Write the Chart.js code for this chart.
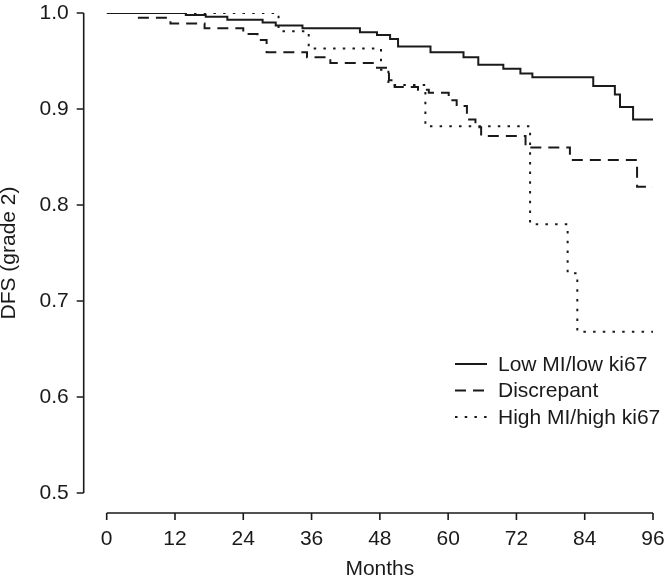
<!DOCTYPE html>
<html>
<head>
<meta charset="utf-8">
<title>DFS grade 2</title>
<script src="https://cdn.jsdelivr.net/npm/chart.js@4/dist/chart.umd.min.js"></script>
<style>
  body { margin: 0; background: #fff; }
  #wrap { width: 670px; height: 585px; }
</style>
</head>
<body>
<div id="wrap"><canvas id="km" width="670" height="585"></canvas></div>
<script>
// Kaplan-Meier steps: month of event, DFS after the event
const lowMonths = [0, 13.9, 17.4, 21.2, 27.4, 29.7, 34.4, 44.5, 47.5, 49.8, 51.2, 56.9, 62.7, 65.3, 69.7, 72.7, 74.8, 85.5, 89.3, 90.2, 92.5, 96]
const lowDfs    = [1.0, 0.998, 0.996, 0.993, 0.990, 0.987, 0.984, 0.980, 0.977, 0.973, 0.965, 0.959, 0.954, 0.946, 0.942, 0.937, 0.933, 0.924, 0.915, 0.902, 0.889, 0.889]

const discMonths = [0, 5.2, 11.2, 17.2, 24.0, 26.5, 28.1, 35.2, 39.3, 47.2, 49.6, 50.6, 54.7, 56.6, 60.1, 61.5, 63.3, 64.8, 65.8, 73.6, 81.4, 93.2, 96]
const discDfs    = [1.0, 0.995, 0.989, 0.984, 0.978, 0.972, 0.959, 0.954, 0.948, 0.943, 0.930, 0.923, 0.920, 0.917, 0.909, 0.903, 0.889, 0.881, 0.872, 0.860, 0.847, 0.819, 0.819]

const highMonths = [0, 30.2, 35.5, 48.2, 49.5, 56.0, 74.4, 81.0, 82.7, 96]
const highDfs    = [1.0, 0.981, 0.963, 0.941, 0.925, 0.882, 0.780, 0.729, 0.668, 0.668]

const seriesLabels = ['Low MI/low ki67', 'Discrepant', 'High MI/high ki67']
const seriesDashes = [[], [11, 7], [2.5, 7.2]]

const monthTicks = [0, 12, 24, 36, 48, 60, 72, 84, 96]
const dfsTicks = [0.5, 0.6, 0.7, 0.8, 0.9, 1.0]

const ink = '#1a1a1a'
const fontFamily = "'Liberation Sans', Arial, Helvetica, sans-serif"
const fontSize = 21

function toPoints(months, vals) {
    return months.map((m, i) => ({x: m, y: vals[i]}))
}

// R style axes: lines detached from the plot region
const rAxes = {
    id: 'rAxes',
    afterDraw(chart) {
        const ctx = chart.ctx
        const x = chart.scales.x
        const y = chart.scales.y
        const axX = chart.chartArea.left - 23
        const axY = chart.chartArea.bottom + 20
        ctx.save()
        ctx.strokeStyle = ink
        ctx.lineWidth = 1.6
        ctx.beginPath()
        ctx.moveTo(axX, y.getPixelForValue(dfsTicks[0]))
        ctx.lineTo(axX, y.getPixelForValue(dfsTicks[dfsTicks.length - 1]))
        dfsTicks.forEach(v => {
            const py = y.getPixelForValue(v)
            ctx.moveTo(axX, py)
            ctx.lineTo(axX - 7, py)
        })
        ctx.moveTo(x.getPixelForValue(monthTicks[0]), axY)
        ctx.lineTo(x.getPixelForValue(monthTicks[monthTicks.length - 1]), axY)
        monthTicks.forEach(m => {
            const px = x.getPixelForValue(m)
            ctx.moveTo(px, axY)
            ctx.lineTo(px, axY + 7)
        })
        ctx.stroke()
        ctx.restore()
    }
}

// legend drawn inside the plot, bottom right
const insideLegend = {
    id: 'insideLegend',
    afterDraw(chart) {
        const ctx = chart.ctx
        const area = chart.chartArea
        const x0 = area.right - 198
        const y0 = area.bottom - 129
        ctx.save()
        ctx.font = fontSize + 'px ' + fontFamily
        ctx.textBaseline = 'middle'
        ctx.fillStyle = ink
        chart.data.datasets.forEach((ds, i) => {
            const yy = y0 + i * 26.5
            ctx.strokeStyle = ds.borderColor
            ctx.lineWidth = ds.borderWidth
            ctx.setLineDash(ds.borderDash)
            ctx.beginPath()
            ctx.moveTo(x0, yy)
            ctx.lineTo(x0 + 32, yy)
            ctx.stroke()
            ctx.fillText(ds.label, x0 + 43, yy + 1)
        })
        ctx.restore()
    }
}

function makeDataset(i, months, vals) {
    return {
        label: seriesLabels[i],
        data: toPoints(months, vals),
        borderColor: ink,
        borderWidth: 2,
        borderDash: seriesDashes[i],
        borderCapStyle: 'butt',
        pointRadius: 0,
        stepped: 'before',
        fill: false
    }
}

const kmChart = new Chart(document.getElementById('km'), {
    type: 'line',
    data: {
        datasets: [
            makeDataset(0, lowMonths, lowDfs),
            makeDataset(1, discMonths, discDfs),
            makeDataset(2, highMonths, highDfs)
        ]
    },
    options: {
        responsive: false,
        devicePixelRatio: 1,
        animation: false,
        layout: { padding: { top: 13, right: 17, left: 0, bottom: 0 } },
        plugins: {
            legend: { display: false },
            tooltip: { enabled: false }
        },
        scales: {
            x: {
                type: 'linear',
                min: 0,
                max: 96,
                afterFit: (scale) => { scale.height = 92 },
                afterBuildTicks: (scale) => { scale.ticks = monthTicks.map(v => ({value: v})) },
                // tick marks are drawn by rAxes; tickLength only pushes the labels out
                grid: { display: false, drawTicks: true, tickLength: 34 },
                border: { display: false },
                ticks: {
                    padding: 0,
                    maxRotation: 0,
                    color: ink,
                    font: { family: fontFamily, size: fontSize }
                },
                title: {
                    display: true,
                    text: 'Months',
                    color: ink,
                    padding: { top: 0, bottom: 3 },
                    font: { family: fontFamily, size: fontSize }
                }
            },
            y: {
                type: 'linear',
                min: 0.5,
                max: 1.0,
                afterFit: (scale) => { scale.width = 106.7 },
                afterBuildTicks: (scale) => { scale.ticks = dfsTicks.map(v => ({value: v})) },
                grid: { display: false, drawTicks: true, tickLength: 38 },
                border: { display: false },
                ticks: {
                    padding: 0,
                    color: ink,
                    font: { family: fontFamily, size: fontSize },
                    callback: (v) => v.toFixed(1)
                },
                title: {
                    display: true,
                    text: 'DFS (grade 2)',
                    color: ink,
                    padding: 0,
                    font: { family: fontFamily, size: fontSize, lineHeight: 0.9 }
                }
            }
        }
    },
    plugins: [rAxes, insideLegend]
})
</script>
</body>
</html>
